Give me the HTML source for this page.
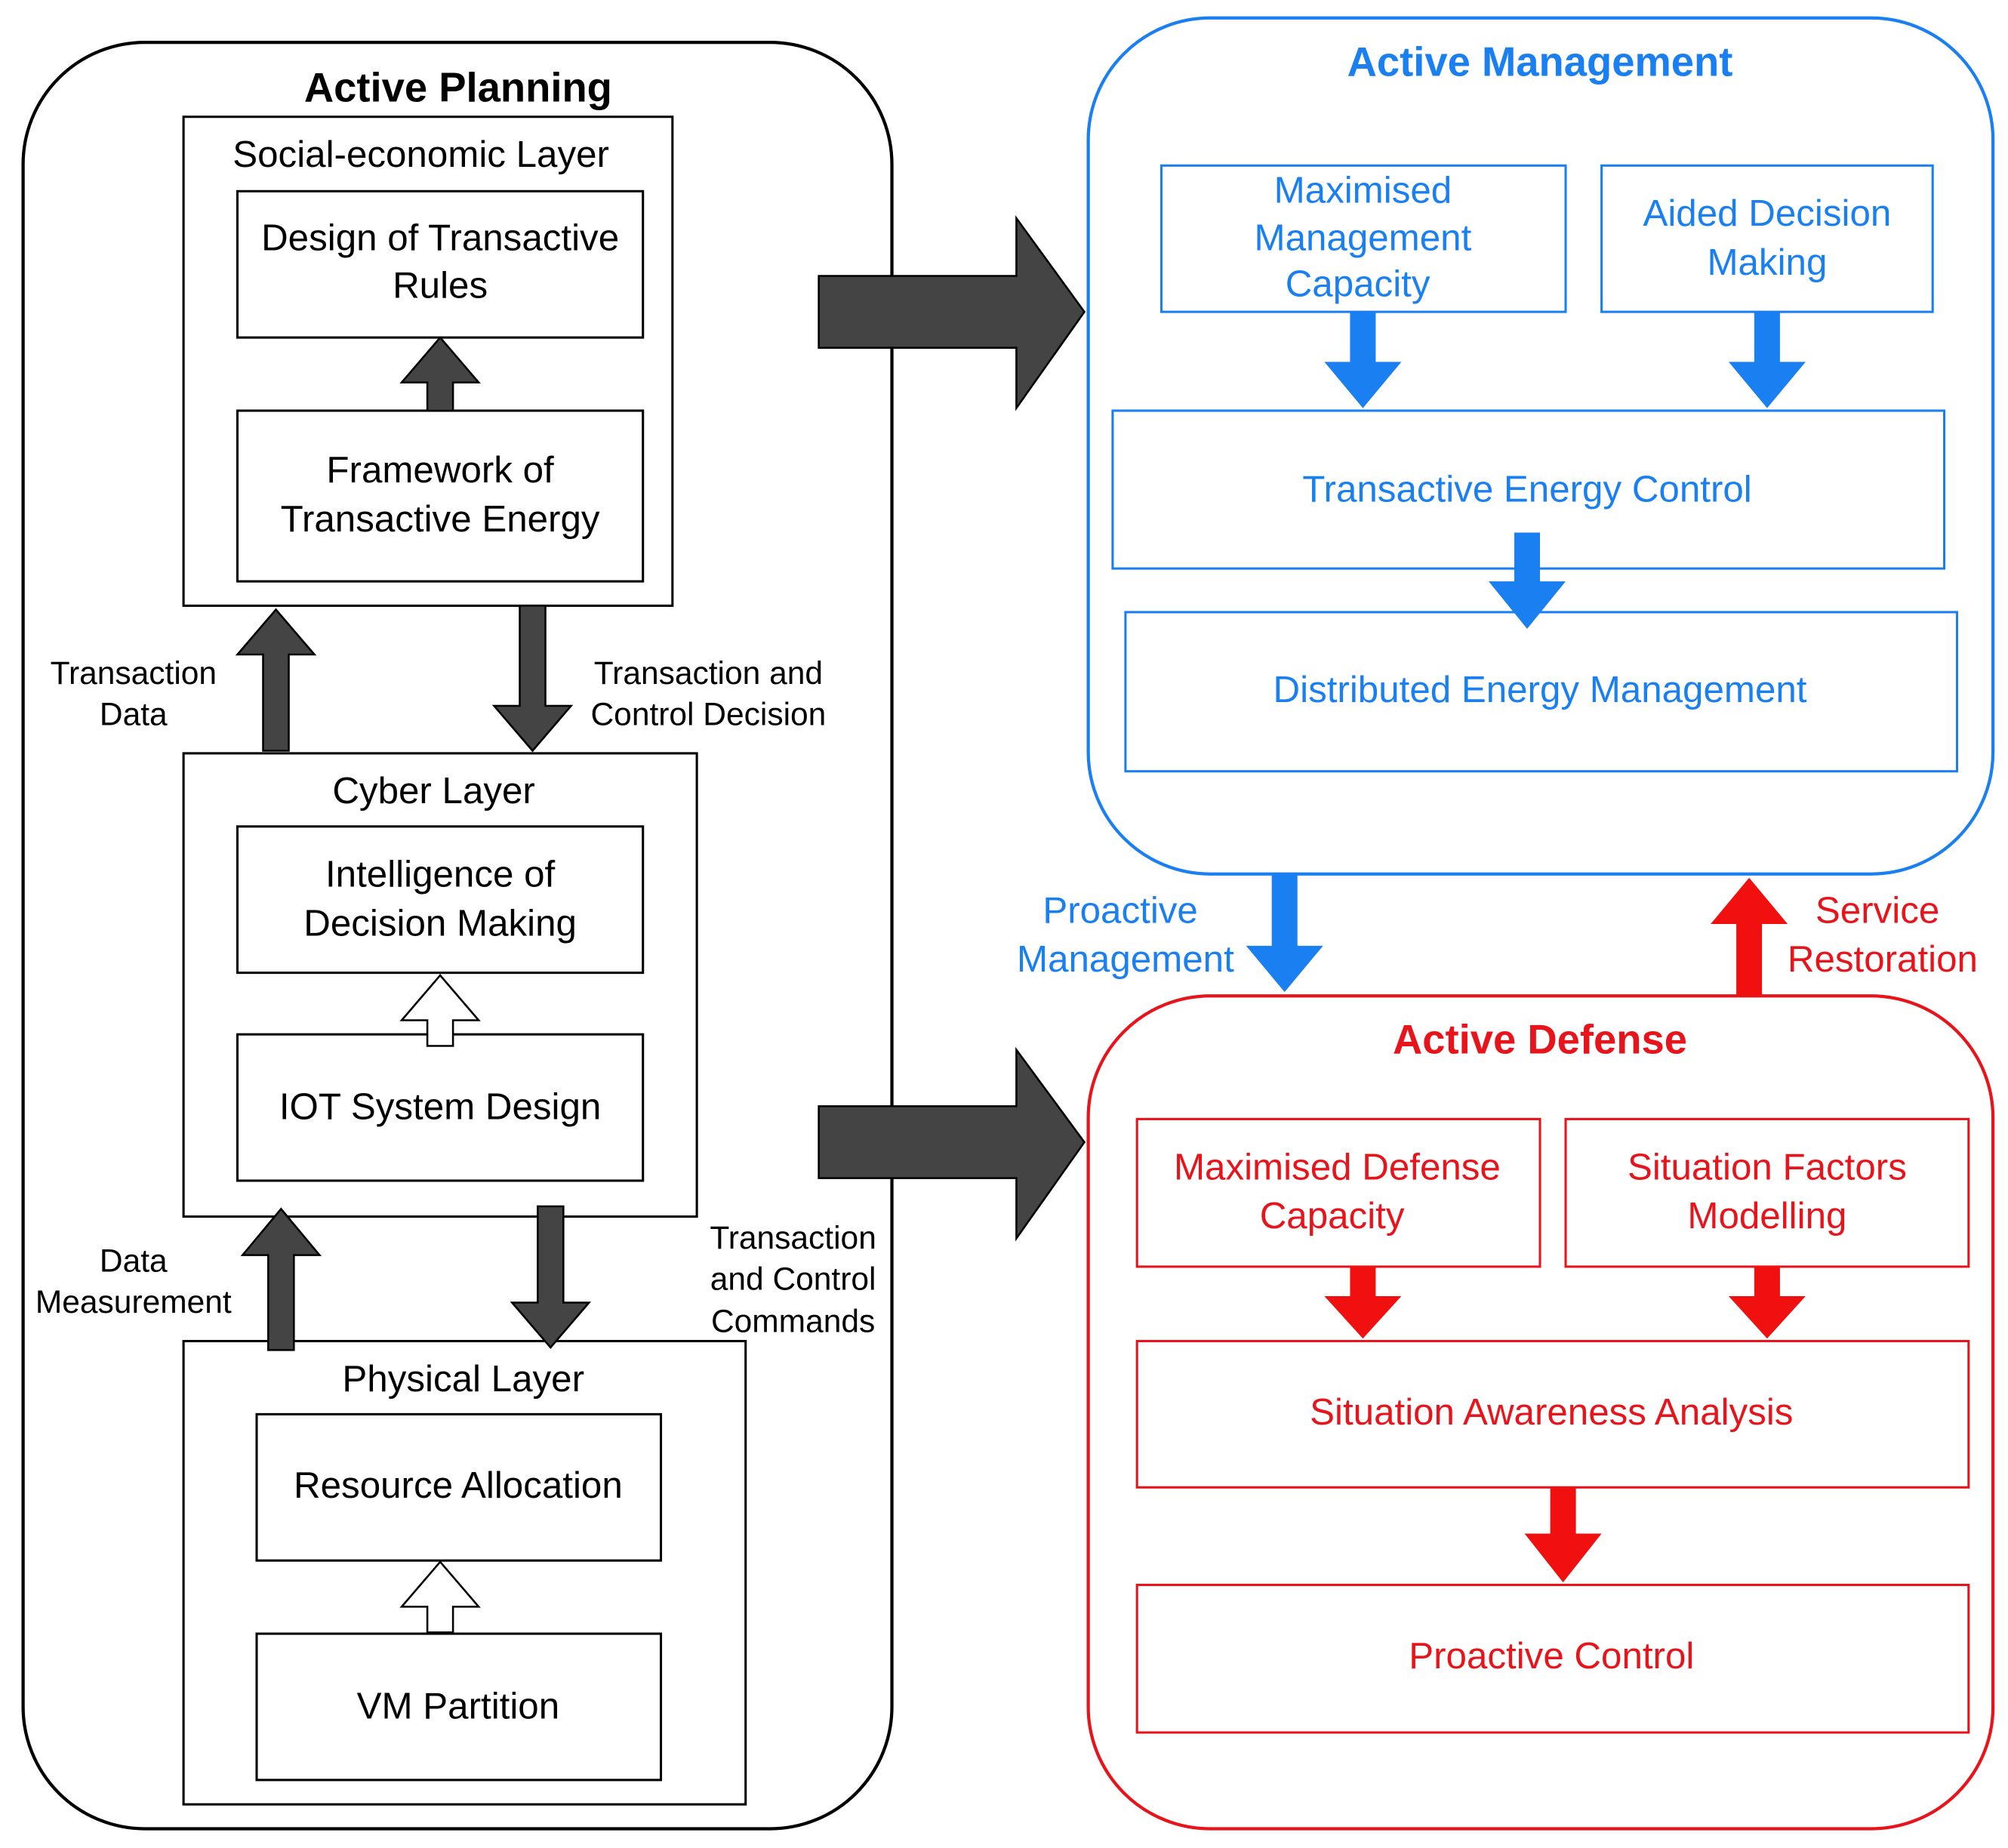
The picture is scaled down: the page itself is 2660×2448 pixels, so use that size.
<!DOCTYPE html>
<html><head><meta charset="utf-8"><style>
html,body{margin:0;padding:0;background:#fff;}
svg{display:block;}
text{font-family:"Liberation Sans",sans-serif;}
</style></head><body>
<svg width="2660" height="2448" viewBox="0 0 1564.7 1440" xmlns="http://www.w3.org/2000/svg">
<g fill="none" stroke="#000" stroke-width="2.5">
<rect x="18" y="33" width="677" height="1392" rx="95"/>
</g>
<g fill="none" stroke="#000" stroke-width="1.8">
<rect x="143" y="91" width="381" height="381"/>
<rect x="185" y="149" width="316" height="114"/>
<rect x="185" y="320" width="316" height="133"/>
<rect x="143" y="587" width="400" height="361"/>
<rect x="185" y="644" width="316" height="114"/>
<rect x="185" y="806" width="316" height="114"/>
<rect x="143" y="1045" width="438" height="361"/>
<rect x="200" y="1102" width="315" height="114"/>
<rect x="200" y="1273" width="315" height="114"/>
</g>
<g fill="#444" stroke="#000" stroke-width="1.5">
<polygon points="333,320 333,298 313,298 343,263 373,298 353,298 353,320"/>
<polygon points="205,585 205,510 185,510 215,475 245,510 225,510 225,585"/>
<polygon points="405,472 425,472 425,550 445,550 415,585 385,550 405,550"/>
<polygon points="209,1052 209,978 189,978 219,942 249,978 229,978 229,1052"/>
<polygon points="419,940 439,940 439,1015 459,1015 429,1050 399,1015 419,1015"/>
<polygon points="638,215 792,215 792,170 845,243 792,318 792,271 638,271"/>
<polygon points="638,862 792,862 792,818 845,890 792,965 792,918 638,918"/>
</g>
<g fill="#fff" stroke="#000" stroke-width="1.5">
<polygon points="333,815 333,795 313,795 343,760 373,795 353,795 353,815"/>
<polygon points="333,1272 333,1252 313,1252 343,1217 373,1252 353,1252 353,1272"/>
</g>
<g fill="#000" text-anchor="middle" font-size="29">
<text x="357" y="79" font-weight="bold" font-size="32">Active Planning</text>
<text x="328" y="130">Social-economic Layer</text>
<text x="343" y="195">Design of Transactive</text>
<text x="343" y="232">Rules</text>
<text x="343" y="376">Framework of</text>
<text x="343" y="414">Transactive Energy</text>
<text x="338" y="626">Cyber Layer</text>
<text x="343" y="691">Intelligence of</text>
<text x="343" y="729">Decision Making</text>
<text x="343" y="872">IOT System Design</text>
<text x="361" y="1084">Physical Layer</text>
<text x="357" y="1167">Resource Allocation</text>
<text x="357" y="1339">VM Partition</text>
</g>
<g fill="#000" text-anchor="middle" font-size="25">
<text x="104" y="533">Transaction</text>
<text x="104" y="565">Data</text>
<text x="552" y="533">Transaction and</text>
<text x="552" y="565">Control Decision</text>
<text x="104" y="991">Data</text>
<text x="104" y="1023">Measurement</text>
<text x="618" y="973">Transaction</text>
<text x="618" y="1005">and Control</text>
<text x="618" y="1038">Commands</text>
</g>
<!-- Active Management -->
<g fill="none" stroke="#1a7ff0">
<rect x="848" y="14" width="705" height="667" rx="95" stroke-width="2.5"/>
<g stroke-width="1.8">
<rect x="905" y="129" width="315" height="114"/>
<rect x="1248" y="129" width="258" height="114"/>
<rect x="867" y="320" width="648" height="123"/>
<rect x="877" y="477" width="648" height="124"/>
</g>
</g>
<g fill="#1a7ff0">
<polygon points="1052,243 1072,243 1072,282 1092,282 1062,318 1032,282 1052,282"/>
<polygon points="1367,243 1387,243 1387,282 1407,282 1377,318 1347,282 1367,282"/>
<polygon points="1180,415 1200,415 1200,453 1220,453 1190,490 1160,453 1180,453"/>
<polygon points="991,681 1011,681 1011,737 1031,737 1001,773 971,737 991,737"/>
</g>
<g fill="#1a7ff0" text-anchor="middle" font-size="29">
<text x="1200" y="59" font-weight="bold" font-size="32">Active Management</text>
<text x="1062" y="158">Maximised</text>
<text x="1062" y="195">Management</text>
<text x="1058" y="231">Capacity</text>
<text x="1377" y="176">Aided Decision</text>
<text x="1377" y="214">Making</text>
<text x="1190" y="391">Transactive Energy Control</text>
<text x="1200" y="547">Distributed Energy Management</text>
<text x="873" y="719">Proactive</text>
<text x="877" y="757">Management</text>
</g>
<!-- Active Defense -->
<g fill="none" stroke="#e8141c">
<rect x="848" y="776" width="705" height="649" rx="95" stroke-width="2.5"/>
<g stroke-width="1.8">
<rect x="886" y="872" width="314" height="115"/>
<rect x="1220" y="872" width="314" height="115"/>
<rect x="886" y="1045" width="648" height="114"/>
<rect x="886" y="1235" width="648" height="115"/>
</g>
</g>
<g fill="#f01010">
<polygon points="1052,987 1072,987 1072,1010 1092,1010 1062,1043 1032,1010 1052,1010"/>
<polygon points="1367,987 1387,987 1387,1010 1407,1010 1377,1043 1347,1010 1367,1010"/>
<polygon points="1208,1159 1228,1159 1228,1195 1248,1195 1218,1233 1188,1195 1208,1195"/>
<polygon points="1353,776 1353,720 1333,720 1363,684 1393,720 1373,720 1373,776"/>
</g>
<g fill="#e8141c" text-anchor="middle" font-size="29">
<text x="1200" y="821" font-weight="bold" font-size="32">Active Defense</text>
<text x="1042" y="919">Maximised Defense</text>
<text x="1038" y="957">Capacity</text>
<text x="1377" y="919">Situation Factors</text>
<text x="1377" y="957">Modelling</text>
<text x="1209" y="1110">Situation Awareness Analysis</text>
<text x="1209" y="1300">Proactive Control</text>
<text x="1463" y="719">Service</text>
<text x="1467" y="757">Restoration</text>
</g>
</svg>
</body></html>
